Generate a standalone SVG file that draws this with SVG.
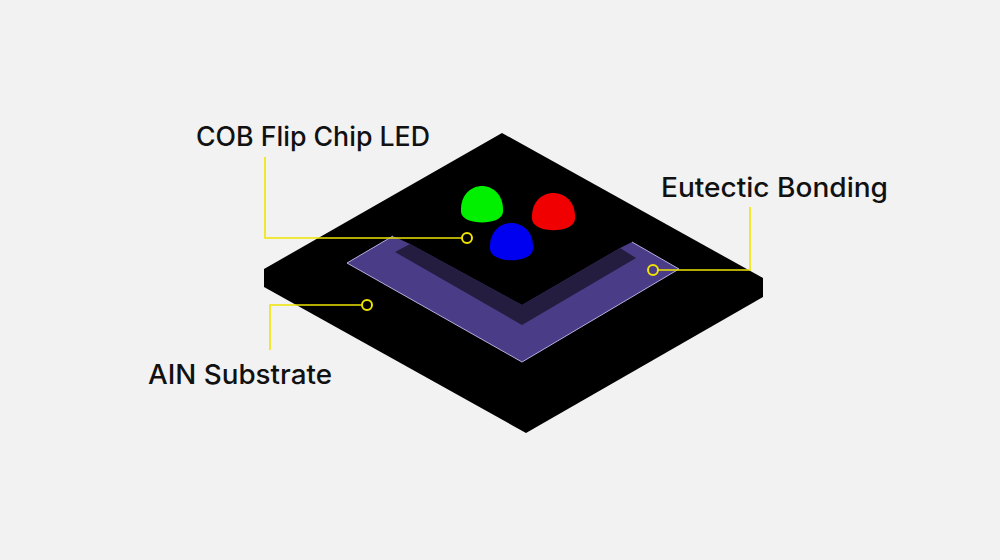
<svg xmlns="http://www.w3.org/2000/svg" width="1000" height="560" viewBox="0 0 1000 560">
<style>
.lbl{font-family:Inter,"Noto Sans","DejaVu Sans",sans-serif;font-size:27px;font-weight:500;fill:#111}
.lead{fill:none;stroke:#f0e400;stroke-width:1.6}
.dot{fill:none;stroke:#f0e400;stroke-width:2}
</style>
<rect width="1000" height="560" fill="#f2f2f2"/>
<g id="substrate">
<polygon points="502,133 763,278 763,297 526,433 264,287 264,269" fill="#000"/>
</g>
<g id="eutectic-bonding">
<polygon points="347,263 393,236 410,244 522,305 620,248 632,242 679,269 522,362" fill="#4b3c88"/>
<polyline points="393,236 347,263 522,362 679,269 632,242" fill="none" stroke="#b6aee0" stroke-width="1"/>
<polygon points="395,252 410,244 522,305 620,248 636,258 522,325" fill="#241d3f"/>
</g>
<g id="leds">
<path d="M461,212 C460,194 472,186 482,186 C492,186 504,194 503,212 C502,226 462,226 461,212 Z" fill="#00f000"/>
<path d="M532,219 C531,201 543,193 553,193 C564,193 576,201 575,219 C574,234 533,234 532,219 Z" fill="#f00000"/>
<path d="M490,249 C489,231 501,223 511,223 C522,223 534,231 533,249 C532,264 491,264 490,249 Z" fill="#0000f0"/>
</g>
<g id="connectors">
<polyline class="lead" points="265,157 265,238 462,238"/>
<circle class="dot" cx="467" cy="238" r="5"/>
<polyline class="lead" points="750,207 750,270 658,270"/>
<circle class="dot" cx="653" cy="270" r="5"/>
<polyline class="lead" points="270,350 270,305 362,305"/>
<circle class="dot" cx="367" cy="305" r="5"/>
</g>
<g id="labels">
<text class="lbl" x="196" y="146" textLength="234" lengthAdjust="spacingAndGlyphs">COB Flip Chip LED</text>
<text class="lbl" x="661" y="197" textLength="227" lengthAdjust="spacingAndGlyphs">Eutectic Bonding</text>
<text class="lbl" x="148" y="384" textLength="184" lengthAdjust="spacingAndGlyphs">AIN Substrate</text>
</g>
</svg>
